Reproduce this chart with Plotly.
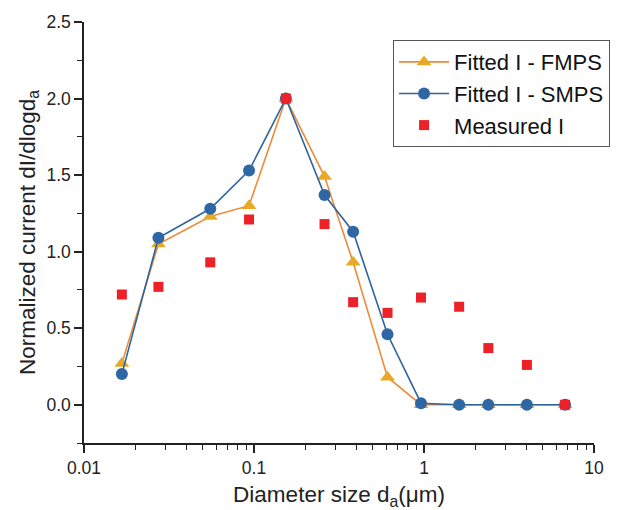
import plotly.graph_objects as go

diameter = [0.0167, 0.0274, 0.0553, 0.0935, 0.154, 0.26, 0.383, 0.61, 0.96, 1.61, 2.39, 4.03, 6.76]
fitted_fmps = [0.27, 1.05, 1.23, 1.30, 2.00, 1.49, 0.93, 0.18, 0.00, 0.00, 0.00, 0.00, 0.00]
fitted_smps = [0.20, 1.09, 1.28, 1.53, 2.00, 1.37, 1.13, 0.46, 0.01, 0.00, 0.00, 0.00, 0.00]
measured = [0.72, 0.77, 0.93, 1.21, 2.00, 1.18, 0.67, 0.60, 0.70, 0.64, 0.37, 0.26, 0.00]

font_family = "Liberation Sans, Arial, sans-serif"

fig = go.Figure()
fig.add_trace(go.Scatter(
    x=diameter, y=fitted_fmps, mode="lines+markers", name="Fitted I - FMPS",
    line=dict(color="#EE8A3A", width=1.6),
    marker=dict(symbol="triangle-up", size=13, color="#E8AA24"),
))
fig.add_trace(go.Scatter(
    x=diameter, y=fitted_smps, mode="lines+markers", name="Fitted I - SMPS",
    line=dict(color="#2C64A0", width=1.6),
    marker=dict(symbol="circle", size=12, color="#2E67A3"),
))
fig.add_trace(go.Scatter(
    x=diameter, y=measured, mode="markers", name="Measured I",
    marker=dict(symbol="square", size=10, color="#EE2028"),
))

fig.update_layout(
    width=622, height=510, autosize=False,
    margin=dict(l=84, r=12, t=22, b=67),
    paper_bgcolor="white", plot_bgcolor="white",
    font=dict(family=font_family, size=17, color="#222"),
    legend=dict(
        x=0.606, y=0.957, xanchor="left", yanchor="top",
        bordercolor="#555", borderwidth=1, bgcolor="white",
        font=dict(size=22, color="#111"),
        tracegroupgap=0, itemwidth=50,
    ),
    xaxis=dict(
        type="log", range=[-2, 1], automargin=False,
        tickvals=[0.01, 0.1, 1, 10], ticktext=["0.01", "0.1", "1", "10"],
        showline=True, linecolor="#222", linewidth=1.5, mirror=False,
        ticks="outside", ticklen=8, tickwidth=1.5, tickcolor="#222",
        minor=dict(ticks="outside", ticklen=5, tickwidth=1, tickcolor="#222",
                   tickvals=[m * 10 ** e for e in (-2, -1, 0) for m in range(2, 10)]),
        showgrid=False, zeroline=False,
        title=dict(text="Diameter size d<sub>a</sub>(μm)", font=dict(size=22.5), standoff=15),
        tickfont=dict(size=17.5),
    ),
    yaxis=dict(
        range=[-0.25, 2.5], automargin=False,
        tickvals=[0, 0.5, 1.0, 1.5, 2.0, 2.5], tickformat=".1f",
        showline=True, linecolor="#222", linewidth=1.5, mirror=False,
        ticks="outside", ticklen=8, tickwidth=1.5, tickcolor="#222",
        minor=dict(ticks="outside", ticklen=5, tickwidth=1, tickcolor="#222",
                   tickvals=[-0.25, 0.25, 0.75, 1.25, 1.75, 2.25]),
        showgrid=False, zeroline=False,
        title=dict(text="Normalized current dI/dlogd<sub>a</sub>", font=dict(size=22.5), standoff=5),
        tickfont=dict(size=17.5),
    ),
)

# remove the default 8px page margin so the 622x510 figure fills the window exactly
post = (
    "document.body.style.margin='0';"
    "document.body.style.overflow='hidden';"
    "var gd=document.getElementById('{plot_id}');"
    "Plotly.relayout(gd,{width:622,height:510});"
)
fig.write_html(
    "out.html",
    config={"displayModeBar": False, "responsive": False},
    post_script=post,
)
